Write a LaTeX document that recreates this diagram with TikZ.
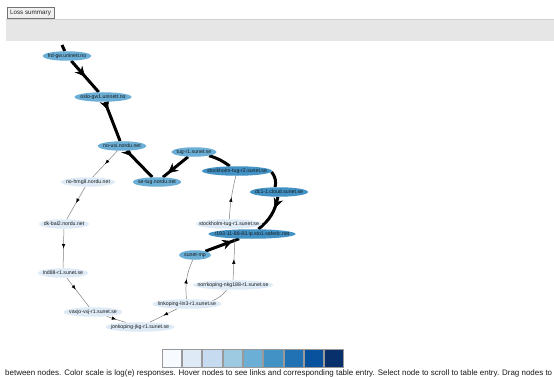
\documentclass[tikz,border=0pt]{standalone}
\usepackage{fontspec}
\setmainfont{Liberation Sans}
\usetikzlibrary{shapes.geometric,arrows.meta,decorations.markings,backgrounds}
\definecolor{bmed}{HTML}{6BAED6}
\definecolor{bdark}{HTML}{4292C6}
\definecolor{blight}{HTML}{DEEBF7}
\definecolor{band}{HTML}{E6E6E6}
\definecolor{cA}{HTML}{F7FBFF}
\definecolor{cB}{HTML}{DEEBF7}
\definecolor{cC}{HTML}{C6DBEF}
\definecolor{cD}{HTML}{9ECAE1}
\definecolor{cE}{HTML}{6BAED6}
\definecolor{cF}{HTML}{4292C6}
\definecolor{cG}{HTML}{2171B5}
\definecolor{cH}{HTML}{08519C}
\definecolor{cI}{HTML}{08306B}
\newcommand\nl[1]{\makebox[0pt]{#1}}
\begin{document}
\begin{tikzpicture}[x=1pt,y=-1pt,
  nd/.style={ellipse, inner sep=0pt, minimum height=9.5pt, font=\fontsize{5.2}{6}\selectfont, text=black!90},
  med/.style={nd, fill=bmed},
  dark/.style={nd, fill=bdark},
  light/.style={nd, fill=blight},
  thk/.style={line width=3pt, draw=black},
  thn/.style={line width=0.5pt, draw=black!50},
  ma/.style={postaction={decorate, decoration={markings, mark=at position #1 with {\arrow[black]{Latex[length=4.5pt,width=3.5pt]}}}}},
  MA/.style={postaction={decorate, decoration={markings, mark=at position #1 with {\arrow[black,line width=0.5pt]{Stealth[length=10pt,width=10pt,inset=3.5pt]}}}}},
  legbox/.style={draw=black!40, line width=0.6pt},
]
\useasboundingbox (0,0) rectangle (554,377);
% header
\node[draw=black!55, fill=black!6, line width=0.5pt, inner sep=1pt, minimum width=47pt, minimum height=11pt, font=\fontsize{6.3}{7}\selectfont, text=black!85] (btn) at (30.5,12.5) {Loss summary};
\fill[band] (6,19) rectangle (554,41);
\draw[black!18, line width=0.5pt] (6,19) -- (554,19);
% nodes
\node[med,  minimum width=49pt] (frd)   at (67,56)  {\nl{frd-gw.uninett.no}};
\node[med,  minimum width=57pt] (oslo)  at (103,97) {\nl{oslo-gw1.uninett.no}};
\node[med,  minimum width=49pt] (nousi) at (122,146) {\nl{no-usi.nordu.net}};
\node[light,minimum width=54pt] (nohmg) at (88,182) {\nl{no-hmg8.nordu.net}};
\node[med,  minimum width=49pt] (setug) at (157,182) {\nl{se-tug.nordu.net}};
\node[med,  minimum width=45pt] (tugr1) at (194,152) {\nl{tug-r1.sunet.se}};
\node[dark, minimum width=70pt] (sthr2) at (237,171) {\nl{stockholm-tug-r2.sunet.se}};
\node[dark, minimum width=58pt] (dc1)   at (279,192) {\nl{dc1-1.cloud.sunet.se}};
\node[light,minimum width=66pt] (sthr1) at (229,224) {\nl{stockholm-tug-r1.sunet.se}};
\node[dark, minimum width=87pt] (r193)  at (252,234) {\nl{r193-11-88-83.ip.sto1.safedc.net}};
\node[light,minimum width=50pt] (dkbal) at (64,224) {\nl{dk-bal2.nordu.net}};
\node[light,minimum width=50pt] (lnd)   at (63,273) {\nl{lnd88-r1.sunet.se}};
\node[med,  minimum width=32pt] (mp)    at (195,255) {\nl{sunet-mp}};
\node[light,minimum width=80pt] (nkg)   at (233,285) {\nl{norrkoping-nkg188-r1.sunet.se}};
\node[light,minimum width=69pt] (lin)   at (187,304) {\nl{linkoping-lin3-r1.sunet.se}};
\node[light,minimum width=59pt] (vxj)   at (93,312) {\nl{vaxjo-vxj-r1.sunet.se}};
\node[light,minimum width=69pt] (jkg)   at (140,327) {\nl{jonkoping-jkg-r1.sunet.se}};
\coordinate (top) at (62,45);
% edges
\begin{scope}[on background layer]
\fill[white] (0,0) rectangle (554,377);
\draw[thk] (top) -- (frd);
\draw[thk, MA=0.5] (frd) -- (oslo);
\draw[thk, MA=0.2] (oslo) -- (nousi);
\draw[thk, MA=0.2] (nousi) -- (setug);
\draw[thk, MA=0.8] (tugr1) -- (setug);
\draw[thk] (tugr1) to[bend left=10] (sthr2);
\draw[thk] (sthr2) to[bend left=25] (dc1);
\draw[thk, MA=0.3] (dc1) to[bend left=20] (r193);
\draw[thk, MA=0.8] (mp) -- (r193);
\draw[thn, ma=0.5] (sthr1) to[bend left=5] (sthr2);
\draw[thn, ma=0.5] (nousi) -- (nohmg);
\draw[thn, ma=0.5] (nohmg) -- (dkbal);
\draw[thn, ma=0.5] (dkbal) -- (lnd);
\draw[thn, ma=0.4] (lnd) -- (vxj);
\draw[thn, ma=0.5] (vxj) -- (jkg);
\draw[thn, ma=0.5] (lin) -- (jkg);
\draw[thn, ma=0.5] (lin) to[bend left=15] (mp);
\draw[thn] (lin) to[bend right=15] (nkg);
\draw[thn, ma=0.5] (nkg.north) -- (r193.195);
\end{scope}
% legend
\foreach \c [count=\i from 0] in {cA,cB,cC,cD,cE,cF,cG,cH,cI}
  \draw[legbox, fill=\c] (162+20.3*\i,349) rectangle ++(19.3,18);
\node[anchor=base west, inner sep=0pt, text=black!90] (cap) at (5,375)
  {\resizebox{547pt}{!}{between nodes. Color scale is log(e) responses. Hover nodes to see links and corresponding table entry. Select node to scroll to table entry. Drag nodes to}};
\end{tikzpicture}
\end{document}
